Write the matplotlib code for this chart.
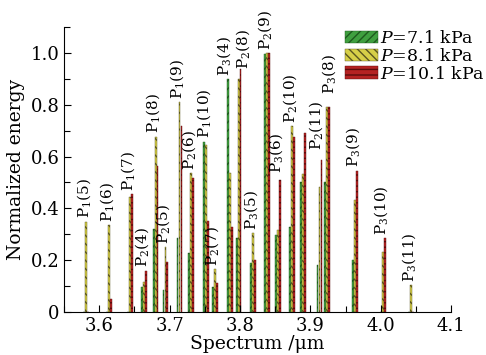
import matplotlib
matplotlib.use("Agg")
import matplotlib.pyplot as plt
import numpy as np
from matplotlib.ticker import MultipleLocator, FixedLocator

plt.rcParams['font.family'] = ['DejaVu Serif']
plt.rcParams['mathtext.fontset'] = 'dejavuserif'

# line positions (um) and normalized energies for each pressure
positions = [3.581, 3.614, 3.644, 3.664, 3.680, 3.694, 3.714, 3.730, 3.752, 3.764, 3.786,
             3.798, 3.819, 3.838, 3.854, 3.874, 3.890, 3.913, 3.924, 3.964, 4.003, 4.043]
e_71 = [0, 0, 0, 0.098, 0.32, 0.085, 0.284, 0.227, 0.658, 0.098, 0.90,
        0.285, 0.188, 0.995, 0.297, 0.33, 0.503, 0.18, 0.50, 0.20, 0, 0]
e_81 = [0.349, 0.336, 0.445, 0.117, 0.677, 0.252, 0.812, 0.535, 0.645, 0.166, 0.537,
        0.90, 0.304, 1.0, 0.317, 0.716, 0.533, 0.484, 0.79, 0.432, 0.23, 0.105]
e_101 = [0, 0.05, 0.455, 0.16, 0.565, 0.194, 0.716, 0.516, 0.35, 0.113, 0.33,
         0.937, 0.2, 1.0, 0.51, 0.677, 0.69, 0.587, 0.79, 0.546, 0.285, 0]
line_labels = ["P$_1$(5)", "P$_1$(6)", "P$_1$(7)", "P$_2$(4)", "P$_1$(8)", "P$_2$(5)",
               "P$_1$(9)", "P$_2$(6)", "P$_1$(10)", "P$_2$(7)", "P$_3$(4)", "P$_2$(8)",
               "P$_3$(5)", "P$_2$(9)", "P$_3$(6)", "P$_2$(10)", "", "P$_2$(11)",
               "P$_3$(8)", "P$_3$(9)", "P$_3$(10)", "P$_3$(11)"]
series_names = ["$P$=7.1 kPa", "$P$=8.1 kPa", "$P$=10.1 kPa"]

# small hand nudges for crowded labels (x in um, y in energy)
nudge = {"P$_2$(8)": (0.0095, -0.01), "P$_3$(8)": (0.005, 0.04), "P$_3$(4)": (-0.005, 0),
         "P$_2$(11)": (-0.002, 0.025), "P$_3$(6)": (0, 0.015)}

fig = plt.figure(figsize=(4.86, 3.55), dpi=100)
ax = fig.add_axes([0.132, 0.121, 0.796, 0.803])

x = np.array(positions)
w = 0.0026
styles = [dict(color="#3f9f3f", edgecolor="#1e5a1e", hatch="////"),
          dict(color="#d6cf48", edgecolor="#5a5520", hatch="\\\\\\\\"),
          dict(color="#b52222", edgecolor="#5a0c0c", hatch="---")]
for i, (vals, st) in enumerate(zip([e_71, e_81, e_101], styles)):
    ax.bar(x + (i - 1) * 0.0028, vals, width=w, linewidth=0.3, label=series_names[i], **st)

tops = np.max([e_71, e_81, e_101], axis=0)
for xi, top, lab in zip(x, tops, line_labels):
    if lab:
        dx, dy = nudge.get(lab, (0, 0))
        ax.text(xi - 0.003 + dx, top + 0.012 + dy, lab, rotation=90, ha="center", va="bottom",
                fontsize=11, clip_on=False)

ax.set_xlim(3.55, 4.1)
ax.set_ylim(0, 1.1)
ax.xaxis.set_major_locator(FixedLocator([3.6, 3.7, 3.8, 3.9, 4.0, 4.1]))
ax.xaxis.set_minor_locator(MultipleLocator(0.05))
ax.set_xticklabels(["3.6", "3.7", "3.8", "3.9", "4.0", "4.1"])
ax.yaxis.set_major_locator(FixedLocator([0, 0.2, 0.4, 0.6, 0.8, 1.0]))
ax.yaxis.set_minor_locator(MultipleLocator(0.1))
ax.set_yticklabels(["0", "0.2", "0.4", "0.6", "0.8", "1.0"])
ax.tick_params(which="both", direction="in", labelsize=13, width=0.8)
ax.tick_params(which="major", length=5)
ax.tick_params(which="minor", length=4)
for s in ["top", "right"]:
    ax.spines[s].set_visible(False)
ax.set_xlabel("Spectrum /\u03bcm", fontsize=13.5, labelpad=0)
ax.set_ylabel("Normalized energy", fontsize=13.5, labelpad=4)

fig.legend(loc="upper left", bbox_to_anchor=(0.71, 0.915), frameon=False, fontsize=12.5,
           handlelength=1.9, handleheight=0.75, labelspacing=0.05, handletextpad=0.1,
           borderpad=0, borderaxespad=0)

fig.savefig("out.png", dpi=100)
